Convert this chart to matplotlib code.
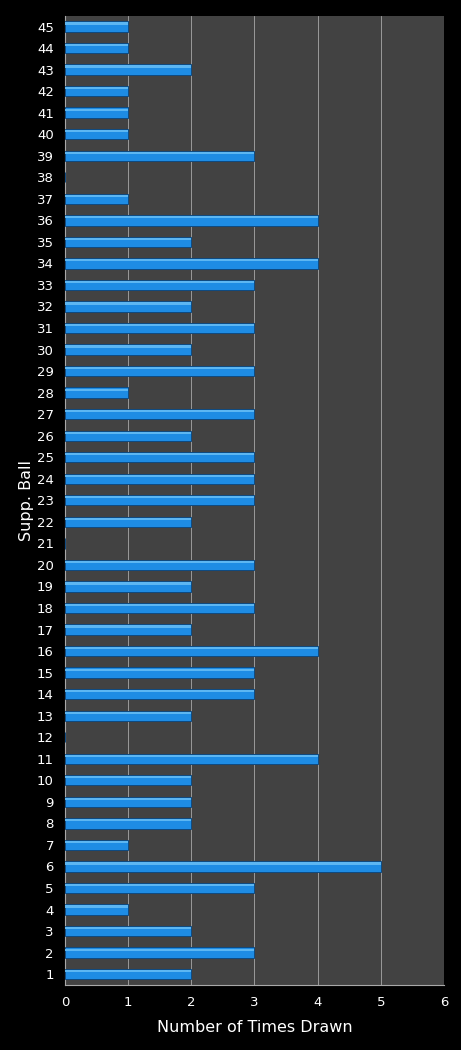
import numpy as np
import matplotlib.pyplot as plt

# Supplementary ball numbers and how many times each one was drawn
balls = list(range(1, 46))
times_drawn = [2, 3, 2, 1, 3, 5, 1, 2, 2, 2,
               4, 0, 2, 3, 3, 4, 2, 3, 2, 3,
               0, 2, 3, 3, 3, 2, 3, 1, 3, 2,
               3, 2, 3, 4, 2, 4, 1, 0, 3, 1,
               1, 1, 2, 1, 1]
x_ticks = [0, 1, 2, 3, 4, 5, 6]

fig = plt.figure(figsize=(4.61, 10.5), dpi=100, facecolor='black')
ax = fig.add_axes([0.141, 0.062, 0.822, 0.923])
ax.set_facecolor('#424242')

y = np.arange(len(balls))
# main bar plus a lighter strip near the top to fake the bevel look
ax.barh(y, times_drawn, height=0.48, color='#1e8ce4', edgecolor='#0f4a80', linewidth=0.7, zorder=3)
ax.barh(y + 0.14, times_drawn, height=0.1, color='#5cb6f2', linewidth=0, zorder=4)

ax.set_xlim(0, 6)
ax.set_ylim(-0.5, len(balls) - 0.5)
ax.set_xticks(x_ticks)
ax.set_yticks(y)
ax.set_yticklabels([str(b) for b in balls])
ax.grid(axis='x', color='#a8a8a8', linewidth=0.6, zorder=1)
ax.tick_params(colors='white', labelsize=9.5, length=0, pad=8)
for s in ax.spines.values():
    s.set_visible(False)
ax.spines['left'].set_visible(True)
ax.spines['bottom'].set_visible(True)
ax.spines['left'].set_color('#a8a8a8')
ax.spines['bottom'].set_color('#a8a8a8')

ax.set_xlabel('Number of Times Drawn', color='white', fontsize=11.5, labelpad=8)
ax.set_ylabel('Supp. Ball', color='white', fontsize=11.5, labelpad=2)

fig.savefig('out.png', dpi=100, facecolor='black')
